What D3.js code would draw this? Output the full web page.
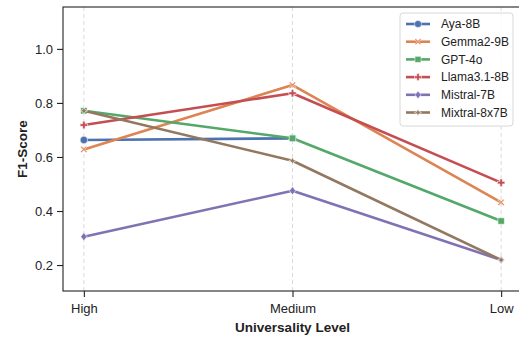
<!DOCTYPE html>
<html>
<head>
<meta charset="utf-8">
<script src="https://cdn.jsdelivr.net/npm/d3@7"></script>
<style>
  body { margin: 0; background: #fff; }
  text { font-family: "Liberation Sans", Arial, sans-serif; fill: #222; }
</style>
</head>
<body>
<div id="chart"></div>
<script>
// F1-score by universality level, one line per model
var levels = ['High', 'Medium', 'Low'];
var models = ['Aya-8B', 'Gemma2-9B', 'GPT-4o', 'Llama3.1-8B', 'Mistral-7B', 'Mixtral-8x7B'];
var aya     = [0.663, 0.669, null];
var gemma   = [0.628, 0.866, 0.432];
var gpt4o   = [0.771, 0.669, 0.363];
var llama   = [0.718, 0.836, 0.505];
var mistral = [0.305, 0.475, 0.219];
var mixtral = [0.771, 0.586, 0.219];
var yTicks = [0.2, 0.4, 0.6, 0.8, 1.0];

var seriesValues = [aya, gemma, gpt4o, llama, mistral, mixtral];
var colors = ['#4C72B0', '#DD8452', '#55A868', '#C44E52', '#8172B3', '#937860'];
var symbols = ['circle', 'x', 'square', 'plus', 'diamond', 'star4'];

var W = 519, H = 338;
var margin = { top: 7, right: -3, bottom: 47, left: 63 };
var width = W - margin.left - margin.right,
    height = H - margin.top - margin.bottom;

var svg = d3.select('#chart').append('svg')
  .attr('width', W).attr('height', H);
var g = svg.append('g')
  .attr('transform', 'translate(' + margin.left + ',' + margin.top + ')');

var x = d3.scalePoint().domain(levels).range([0, width]).padding(0);
// matplotlib style margins: extend 0.1 step each side
var step = width / (levels.length - 1 + 0.2);
x.range([0.1 * step, width - 0.1 * step]);
var y = d3.scaleLinear().domain([0.104, 1.155]).range([height, 0]);

// vertical dashed grid
g.selectAll('.grid').data(levels).enter().append('line')
  .attr('x1', function(d) { return x(d); })
  .attr('x2', function(d) { return x(d); })
  .attr('y1', 0).attr('y2', height)
  .style('stroke', '#d0d0d0').style('stroke-width', 0.8)
  .style('stroke-dasharray', '4,3');

// markers as path strings
function markerPath(type, s) {
  if (type === 'circle') return d3.symbol(d3.symbolCircle, s * s * 0.8)();
  if (type === 'square') return d3.symbol(d3.symbolSquare, s * s * 0.75)();
  if (type === 'diamond') {
    var r = s * 0.55, w = s * 0.42;
    return 'M0,' + (-r) + 'L' + w + ',0L0,' + r + 'L' + (-w) + ',0Z';
  }
  if (type === 'x') {
    var a = s * 0.45, t = s * 0.14;
    return 'M' + (-a) + ',' + (-a + t) + 'L' + (-a + t) + ',' + (-a) + 'L0,' + (-t) + 'L' + (a - t) + ',' + (-a) +
      'L' + a + ',' + (-a + t) + 'L' + t + ',0L' + a + ',' + (a - t) + 'L' + (a - t) + ',' + a +
      'L0,' + t + 'L' + (-a + t) + ',' + a + 'L' + (-a) + ',' + (a - t) + 'L' + (-t) + ',0Z';
  }
  if (type === 'plus') {
    var p = s * 0.5, q = s * 0.17;
    return 'M' + (-q) + ',' + (-p) + 'H' + q + 'V' + (-q) + 'H' + p + 'V' + q + 'H' + q + 'V' + p +
      'H' + (-q) + 'V' + q + 'H' + (-p) + 'V' + (-q) + 'H' + (-q) + 'Z';
  }
  // 4-point star
  var o = s * 0.5, i2 = s * 0.15;
  return 'M0,' + (-o) + 'L' + i2 + ',' + (-i2) + 'L' + o + ',0L' + i2 + ',' + i2 + 'L0,' + o +
    'L' + (-i2) + ',' + i2 + 'L' + (-o) + ',0L' + (-i2) + ',' + (-i2) + 'Z';
}

var line = d3.line()
  .defined(function(d) { return d.v != null; })
  .x(function(d) { return x(d.level); })
  .y(function(d) { return y(d.v); });

seriesValues.forEach(function(vals, k) {
  var pts = levels.map(function(l, i) { return { level: l, v: vals[i] }; });
  var s = g.append('g').attr('class', 'series');
  s.append('path').datum(pts)
    .attr('d', line)
    .style('fill', 'none')
    .style('stroke', colors[k])
    .style('stroke-width', 2.6)
    .style('stroke-linejoin', 'round');
  s.selectAll('.mk').data(pts.filter(function(d) { return d.v != null; }))
    .enter().append('path')
    .attr('transform', function(d) { return 'translate(' + x(d.level) + ',' + y(d.v) + ')'; })
    .attr('d', markerPath(symbols[k], 7.5))
    .style('fill', colors[k])
    .style('stroke', '#fff')
    .style('stroke-width', 0.6);
});

// frame
g.append('rect').attr('width', width).attr('height', height)
  .style('fill', 'none').style('stroke', '#222').style('stroke-width', 1.1);

// axes
var xAxis = g.append('g').attr('transform', 'translate(0,' + height + ')')
  .call(d3.axisBottom(x).tickSize(6).tickPadding(7));
var yAxis = g.append('g')
  .call(d3.axisLeft(y).tickValues(yTicks).tickFormat(d3.format('.1f')).tickSize(6).tickPadding(4));
[xAxis, yAxis].forEach(function(a) {
  a.select('.domain').remove();
  a.selectAll('line').style('stroke', '#222').style('stroke-width', 1.1);
  a.selectAll('text').style('font-size', '13px')
    .style('font-family', '"Liberation Sans", Arial, sans-serif').style('fill', '#222');
});

// axis titles
svg.append('text')
  .attr('x', margin.left + x('Medium')).attr('y', 332)
  .attr('text-anchor', 'middle')
  .style('font-size', '13.5px').style('font-weight', 'bold')
  .text('Universality Level');
svg.append('text')
  .attr('transform', 'translate(27,' + (margin.top + height / 2) + ') rotate(-90)')
  .attr('text-anchor', 'middle')
  .style('font-size', '13.5px').style('font-weight', 'bold')
  .text('F1-Score');

// legend
var lg = svg.append('g').attr('transform', 'translate(400,13)');
lg.append('rect').attr('width', 113).attr('height', 113).attr('rx', 3)
  .style('fill', 'rgba(255,255,255,0.85)').style('stroke', '#d8d8d8').style('stroke-width', 1);
var items = lg.selectAll('.item').data(models).enter().append('g')
  .attr('transform', function(d, i) { return 'translate(0,' + (11 + i * 17.7) + ')'; });
items.append('line').attr('x1', 6).attr('x2', 30)
  .style('stroke', function(d, i) { return colors[i]; }).style('stroke-width', 2.6);
items.append('path').attr('transform', 'translate(18,0)')
  .attr('d', function(d, i) { return markerPath(symbols[i], 7); })
  .style('fill', function(d, i) { return colors[i]; })
  .style('stroke', '#fff').style('stroke-width', 0.5);
items.append('text').attr('x', 41).attr('dy', '0.35em')
  .style('font-size', '12px').text(function(d) { return d; });
</script>
</body>
</html>
